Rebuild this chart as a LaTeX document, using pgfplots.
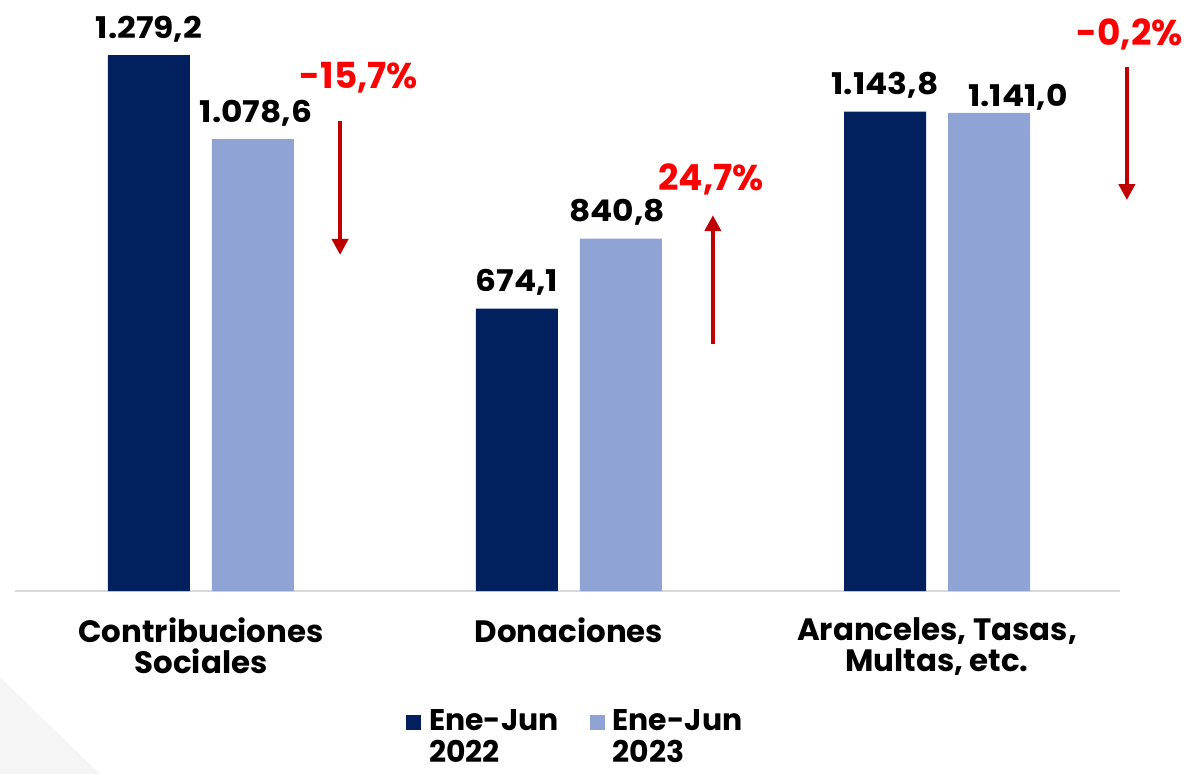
\documentclass[border=0pt]{standalone}
\usepackage{fontspec}
\setmainfont{Poppins}
\newfontfamily\numfont[FakeStretch=1.1]{Poppins}
\usepackage{pgfplots}
\pgfplotsset{compat=1.18}
\usepackage{pgfplotstable}
\usetikzlibrary{arrows.meta}
\definecolor{navy}{HTML}{02205E}
\definecolor{lightb}{HTML}{8FA4D4}
\definecolor{redtxt}{HTML}{FF0000}
\definecolor{redarr}{HTML}{C00000}

\pgfplotstableread{
x y dx dy
0 1279.2 0 17
1 674.1 0 17
2 1143.8 0 17
}\dataA
\pgfplotstableread{
x y dx dy
0 1078.6 3 17
1 840.8 -4 17
2 1141.0 29 6
}\dataB

\begin{document}
\begin{tikzpicture}
\begin{axis}[
  scale only axis, width=1105bp, height=591bp,
  xmin=-0.5054, xmax=2.4973, ymin=0, ymax=1410.5,
  axis y line=none, axis x line*=bottom,
  x axis line style={draw=black!15, line width=1.5bp},
  ybar=22bp, bar width=82bp,
  xtick={0,1,2},
  xticklabels={{Contribuciones\\Sociales},{Donaciones},{Aranceles, Tasas,\\Multas, etc.}},
  xticklabel style={font=\bfseries\fontsize{31}{31}\selectfont, align=center, text=black, yshift=-23bp},
  major tick length=0pt,
  clip=false,
  nodes near coords={\pgfmathprintnumber[use comma,1000 sep={.},fixed,fixed zerofill,precision=1,assume math mode=true]{\pgfplotspointmeta}},
  point meta=y,
  visualization depends on={\thisrow{dx} \as \dx},
  visualization depends on={\thisrow{dy} \as \dy},
  nodes near coords style={font=\numfont\bfseries\fontsize{30}{30}\selectfont, text=black, anchor=base, xshift={\dx*1bp}, yshift={\dy*1bp}, inner sep=0pt},
  legend columns=2,
  legend style={at={(rel axis cs:0.351,-0.1963)}, anchor=north west, draw=none, fill=none,
    font=\bfseries\fontsize{30}{32}\selectfont, nodes={align=left, inner sep=0pt},
    /tikz/every odd column/.style={column sep=8bp},
    /tikz/every even column/.style={column sep=31bp}},
  legend image code/.code={\fill[#1,draw=none] (0bp,6bp) rectangle (15bp,21bp);},
]
\addplot[fill=navy, draw=none] table[x=x,y=y] {\dataA};
\addplot[fill=lightb, draw=none] table[x=x,y=y] {\dataB};
\legend{{Ene-Jun\\2022},{Ene-Jun\\2023}}
\path (rel axis cs:-0.01357,-0.30964) rectangle (rel axis cs:1.06244,1);
\fill[black!4] (rel axis cs:-0.01357,-0.1455) -- (rel axis cs:0.0769,-0.30964) -- (rel axis cs:-0.01357,-0.30964) -- cycle;
% change annotations
\draw[redarr, line width=4bp, -{Triangle[width=16bp,length=16bp]}] (axis cs:0.378,1122) -- (axis cs:0.378,802);
\node[anchor=base, text=redtxt, font=\bfseries\fontsize{36}{36}\selectfont, inner sep=0pt] at (axis cs:0.429,1200) {-15,7\%};
\draw[redarr, line width=4bp, -{Triangle[width=16bp,length=16bp]}] (axis cs:1.391,590) -- (axis cs:1.391,897);
\node[anchor=base, text=redtxt, font=\bfseries\fontsize{36}{36}\selectfont, inner sep=0pt] at (axis cs:1.386,957) {24,7\%};
\draw[redarr, line width=4bp, -{Triangle[width=16bp,length=16bp]}] (axis cs:2.516,1250) -- (axis cs:2.516,933);
\node[anchor=base, text=redtxt, font=\bfseries\fontsize{36}{36}\selectfont, inner sep=0pt] at (axis cs:2.524,1303) {-0,2\%};
\end{axis}
\end{tikzpicture}
\end{document}
